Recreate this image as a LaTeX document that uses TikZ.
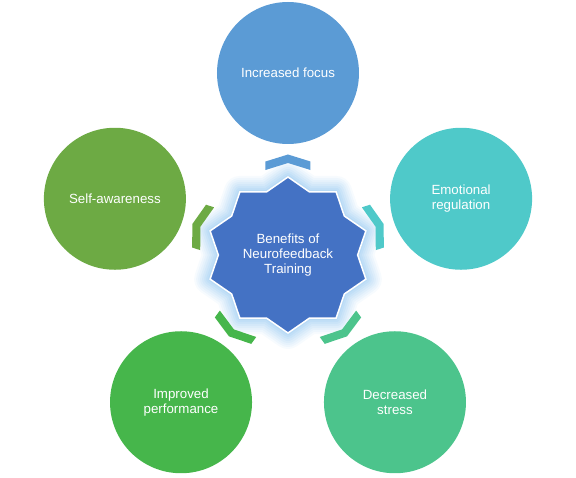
\documentclass[tikz,border=0pt]{standalone}
\usepackage{fontspec}
\setmainfont{Liberation Sans}
\definecolor{cfocus}{HTML}{5B9BD5}
\definecolor{cemo}{HTML}{4FC9C9}
\definecolor{cstress}{HTML}{4CC48C}
\definecolor{cperf}{HTML}{46B64B}
\definecolor{cself}{HTML}{6DAA44}
\definecolor{cstar}{HTML}{4472C4}
\definecolor{cglow}{HTML}{9FCDF2}
\begin{document}
\begin{tikzpicture}[x=1pt,y=1pt,
  every node/.style={font=\fontsize{13.3}{15}\selectfont, text=white, align=center},
  benefit/.style={circle, minimum size=142pt, inner sep=0pt}]
\useasboundingbox (-288,-222) rectangle (288,255);
\def\starpath{({1.05*78*cos(90)},{78*sin(90)})
  \foreach \i in {1,...,19}{ -- ({1.05*(72.15+5.85*cos(180*\i))*cos(90+18*\i)},{(72.15+5.85*cos(180*\i))*sin(90+18*\i)}) } -- cycle}
% glow around the star
\foreach \w/\o in {32/0.08,28/0.1,24/0.11,20/0.13,16/0.15,12/0.18,8/0.22,4/0.28}
  \draw[cglow, line width=\w pt, opacity=\o, line join=round] \starpath;
% star
\draw[fill=cstar, draw=white, line width=1.5pt, line join=miter] \starpath;
\node (center) at (0,0) {Benefits of\\Neurofeedback\\Training};
% chevrons
\foreach \a/\c in {90/cfocus,18/cemo,-54/cstress,-126/cperf,162/cself}
  \fill[\c, rotate=\a] (85,-22.5) -- (93.5,-22.5) -- (100.5,0) -- (93.5,22.5) -- (85,22.5) -- (92,0) -- cycle;
% benefit circles
\node[benefit, fill=cfocus]  (focus)  at (90:182)   {Increased focus};
\node[benefit, fill=cemo]    (emo)    at (18:182)   {Emotional\\regulation};
\node[benefit, fill=cstress] (stress) at (-54:182)  {Decreased\\stress};
\node[benefit, fill=cperf]   (perf)   at (-126:182) {Improved\\performance};
\node[benefit, fill=cself]   (self)   at (162:182)  {Self-awareness};
\end{tikzpicture}
\end{document}
